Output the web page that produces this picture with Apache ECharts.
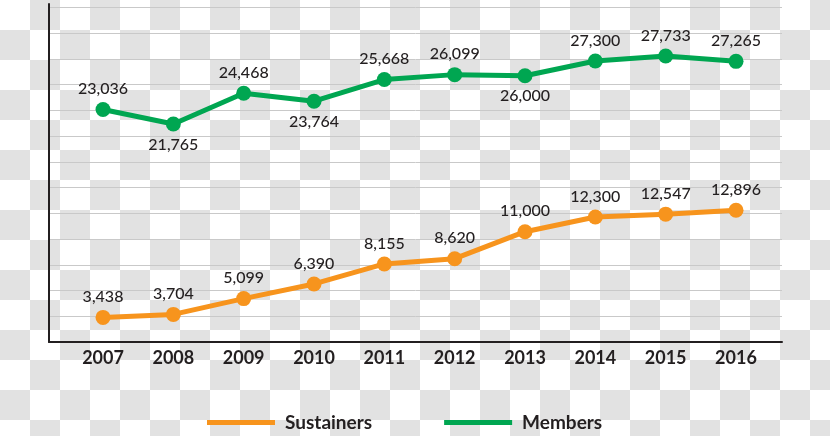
<!DOCTYPE html>
<html>
<head>
<meta charset="utf-8">
<script src="https://cdn.jsdelivr.net/npm/echarts@6/dist/echarts.min.js"></script>
<style>
  html, body { margin: 0; padding: 0; }
  body {
    background: repeating-conic-gradient(#e2e2e2 0 25%, #ffffff 0 50%) 0 0 / 60px 60px;
  }
  #chart { width: 830px; height: 436px; }
</style>
</head>
<body>
<div id="chart"></div>
<script>
const years = [2007, 2008, 2009, 2010, 2011, 2012, 2013, 2014, 2015, 2016]
const sustainers = [3438, 3704, 5099, 6390, 8155, 8620, 11000, 12300, 12547, 12896]
const members = [23036, 21765, 24468, 23764, 25668, 26099, 26000, 27300, 27733, 27265]
const seriesNames = ["Sustainers", "Members"]

const ORANGE = "#f7941d"
const GREEN = "#00a651"
const INK = "#231f20"

// members labels that sit under the dot
const membersBelow = [1, 3, 6]

const fmt = (v) => v.toLocaleString("en-US")

const pairs = (vals) => years.map((y, i) => [y, vals[i]])

const labelBase = {
    show: true,
    color: INK,
    fontFamily: "Lato",
    fontSize: 16,
    fontWeight: 500,
    distance: 5,
    formatter: (p) => fmt(p.value[1]),
}

const chart = echarts.init(document.getElementById("chart"), null, { renderer: "canvas" })

chart.setOption({
    animation: false,
    backgroundColor: "transparent",
    grid: { left: 49, right: 48, top: 4, bottom: 94 },
    legend: {
        data: seriesNames,
        left: 207,
        top: 413,
        padding: 0,
        icon: "rect",
        itemWidth: 68,
        itemHeight: 5,
        itemGap: 72,
        textStyle: {
            color: INK,
            fontFamily: "Lato",
            fontSize: 19,
            fontWeight: "bold",
            padding: [0, 0, 0, 5],
        },
    },
    xAxis: {
        type: "value",
        min: 2006.232,
        max: 2016.654,
        axisLine: { show: true, onZero: false, lineStyle: { color: INK, width: 2 } },
        axisTick: { show: false },
        splitLine: { show: false },
        axisLabel: {
            customValues: years,
            formatter: (v) => String(Math.round(v)),
            color: INK,
            fontFamily: "Lato",
            fontSize: 18,
            fontWeight: "bold",
            margin: 7,
        },
    },
    yAxis: [
        {
            // gridlines only
            type: "value",
            min: 0,
            max: 13.13,
            interval: 1,
            axisLine: { show: true, onZero: false, lineStyle: { color: INK, width: 2 } },
            axisTick: { show: false },
            axisLabel: { show: false },
            splitLine: { show: true, showMinLine: false, showMaxLine: false, lineStyle: { color: "#c9c9c9", width: 1 } },
        },
        { type: "value", show: false, min: 2625, max: 32300, splitLine: { show: false } },
        { type: "value", show: false, min: 1270, max: 31087, splitLine: { show: false } },
    ],
    series: [
        {
            name: seriesNames[0],
            type: "line",
            yAxisIndex: 2,
            data: pairs(sustainers),
            color: ORANGE,
            symbol: "circle",
            symbolSize: 15,
            lineStyle: { width: 5, color: ORANGE },
            itemStyle: { color: ORANGE },
            label: { ...labelBase, position: "top" },
        },
        {
            name: seriesNames[1],
            type: "line",
            yAxisIndex: 1,
            data: pairs(members).map((d, i) => ({
                value: d,
                label: { position: membersBelow.includes(i) ? "bottom" : "top" },
            })),
            color: GREEN,
            symbol: "circle",
            symbolSize: 15,
            lineStyle: { width: 5, color: GREEN },
            itemStyle: { color: GREEN },
            label: { ...labelBase },
        },
    ],
})
</script>
</body>
</html>
